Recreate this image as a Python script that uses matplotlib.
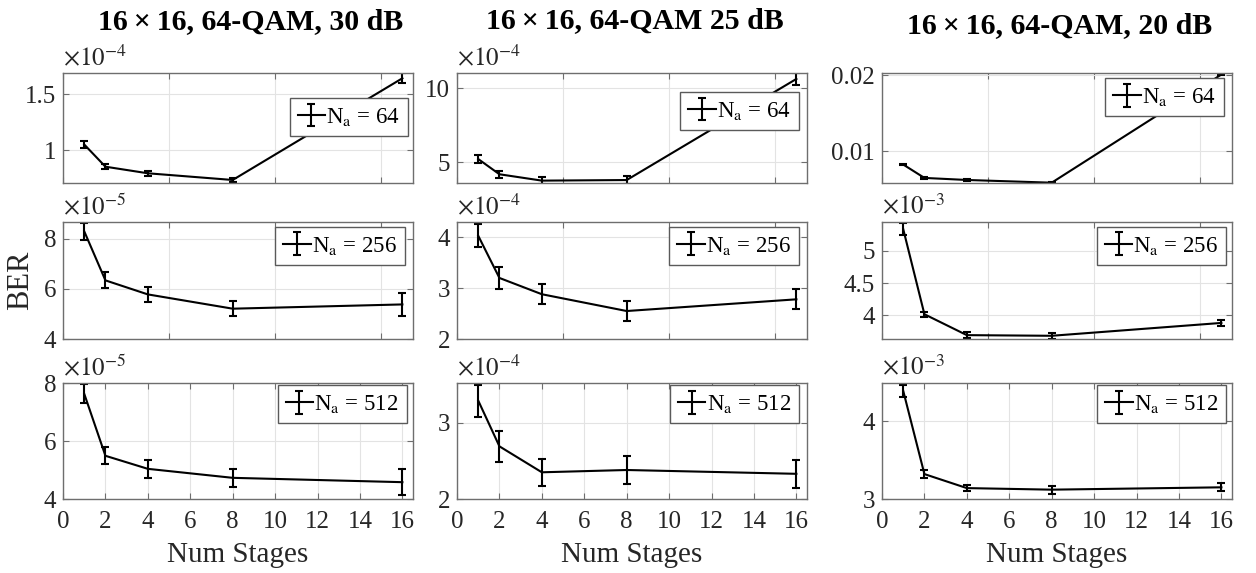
import matplotlib
matplotlib.use("Agg")
import matplotlib.pyplot as plt
import numpy as np

plt.rcParams['font.family'] = ['Liberation Serif', 'DejaVu Serif']
plt.rcParams['mathtext.fontset'] = 'stix'

# ---------------- data ----------------
stages = [1, 2, 4, 8, 16]
titles = ["16\u2009\u00d7\u200916, 64-QAM, 30 dB", "16\u2009\u00d7\u200916, 64-QAM 25 dB",
          "16\u2009\u00d7\u200916, 64-QAM, 20 dB"]
antennas = [64, 256, 512]

ber_30_64 = [1.05e-4, 0.851e-4, 0.792e-4, 0.732e-4, 1.643e-4]
err_30_64 = [0.03e-4, 0.02e-4, 0.02e-4, 0.02e-4, 0.045e-4]
ber_30_256 = [8.30e-5, 6.34e-5, 5.78e-5, 5.21e-5, 5.38e-5]
err_30_256 = [0.35e-5, 0.32e-5, 0.30e-5, 0.29e-5, 0.46e-5]
ber_30_512 = [7.63e-5, 5.49e-5, 5.04e-5, 4.73e-5, 4.58e-5]
err_30_512 = [0.33e-5, 0.30e-5, 0.31e-5, 0.30e-5, 0.45e-5]

ber_25_64 = [5.22e-4, 4.19e-4, 3.76e-4, 3.80e-4, 10.63e-4]
err_25_64 = [0.30e-4, 0.25e-4, 0.25e-4, 0.25e-4, 0.40e-4]
ber_25_256 = [4.03e-4, 3.20e-4, 2.88e-4, 2.55e-4, 2.78e-4]
err_25_256 = [0.23e-4, 0.21e-4, 0.20e-4, 0.20e-4, 0.20e-4]
ber_25_512 = [3.29e-4, 2.69e-4, 2.35e-4, 2.38e-4, 2.33e-4]
err_25_512 = [0.21e-4, 0.20e-4, 0.18e-4, 0.18e-4, 0.18e-4]

ber_20_64 = [0.00822, 0.00645, 0.00618, 0.00582, 0.0201]
err_20_64 = [0.0001, 0.0001, 0.0001, 0.0001, 0.0001]
ber_20_256 = [5.34e-3, 4.015e-3, 3.69e-3, 3.68e-3, 3.88e-3]
err_20_256 = [0.09e-3, 0.04e-3, 0.05e-3, 0.05e-3, 0.05e-3]
ber_20_512 = [4.39e-3, 3.32e-3, 3.14e-3, 3.12e-3, 3.15e-3]
err_20_512 = [0.08e-3, 0.05e-3, 0.04e-3, 0.05e-3, 0.05e-3]

# per panel: (values, errors, exponent or None, ylim in scaled units, yticks in scaled units)
panels = [
    [(ber_30_64, err_30_64, -4, (0.705, 1.69), [1, 1.5]),
     (ber_30_256, err_30_256, -5, (4.0, 8.67), [4, 6, 8]),
     (ber_30_512, err_30_512, -5, (4.0, 8.0), [4, 6, 8])],
    [(ber_25_64, err_25_64, -4, (3.6, 11.03), [5, 10]),
     (ber_25_256, err_25_256, -4, (2.0, 4.30), [2, 3, 4]),
     (ber_25_512, err_25_512, -4, (2.0, 3.52), [2, 3])],
    [(ber_20_64, err_20_64, None, (0.00578, 0.0203), [0.01, 0.02]),
     (ber_20_256, err_20_256, -3, (3.63, 5.45), [4, 4.5, 5]),
     (ber_20_512, err_20_512, -3, (3.0, 4.49), [3, 4])],
]

# ---------------- layout (pixels) ----------------
W, H = 1256, 573
fig = plt.figure(figsize=(W / 100, H / 100), dpi=100)
col_left = [63, 457, 882]
col_w = 350
rows = [(73, 183), (222, 339), (383, 499)]
legend_anchor = [
    [(0.986, 0.773), (0.977, 0.96), (0.982, 0.98)],
    [(0.977, 0.827), (0.977, 0.96), (0.977, 0.98)],
    [(0.977, 0.954), (0.984, 0.96), (0.984, 0.98)],
]
title_pos = [(251, 22), (635, 21), (1060, 26)]

spine_c = '#6e6e6e'
text_c = '#262626'

for c in range(3):
    for r in range(3):
        vals, errs, expo, ylim, yticks = panels[c][r]
        top, bot = rows[r]
        ax = fig.add_axes([col_left[c] / W, (H - bot) / H, col_w / W, (bot - top) / H])
        scale = 10.0 ** expo if expo is not None else 1.0
        v = np.array(vals) / scale
        e = np.array(errs) / scale
        ax.errorbar(stages, v, yerr=e, color='black', lw=1.5, capsize=3, capthick=1.5,
                    elinewidth=1.5, label=r'N$_{\rm a}$ = %d' % antennas[r])
        ax.set_xlim(0, 16.5)
        ax.set_ylim(*ylim)
        ax.set_yticks(yticks)
        ax.set_yticklabels(['%g' % t for t in yticks])
        if r < 2:
            ax.set_xticks([0, 5, 10, 15])
            ax.set_xticklabels([])
        else:
            ax.set_xticks(list(range(0, 17, 2)))
            ax.set_xlabel('Num Stages', fontsize=21, color=text_c, labelpad=6)
        ax.grid(True, color='#e3e3e3', lw=0.8)
        ax.set_axisbelow(True)
        for s in ax.spines.values():
            s.set_color(spine_c)
            s.set_linewidth(1.0)
        ax.tick_params(direction='in', top=True, right=True, length=4, width=0.8,
                       colors=spine_c, labelcolor=text_c, labelsize=18, pad=5)
        ax.tick_params(axis='x', pad=9)
        leg = ax.legend(loc='upper right', bbox_to_anchor=legend_anchor[c][r], fontsize=16.5,
                        fancybox=False, framealpha=1, edgecolor='#5a5a5a',
                        borderpad=0.35, handlelength=1.2, handletextpad=0.05,
                        borderaxespad=0.0)
        leg.get_frame().set_linewidth(1.0)
        if expo is not None:
            ax.text(0.0, 1.02, r'$\times10^{%d}$' % expo, transform=ax.transAxes,
                    ha='left', va='bottom', fontsize=18, color=text_c)
        if c == 0 and r == 1:
            ax.set_ylabel('BER', fontsize=22, color=text_c, labelpad=6)

for c in range(3):
    x, y = title_pos[c]
    fig.text(x / W, 1 - y / H, titles[c], ha='center', va='center', fontsize=21.5,
             fontweight='bold', color='black')

fig.savefig('out.png', dpi=100)
